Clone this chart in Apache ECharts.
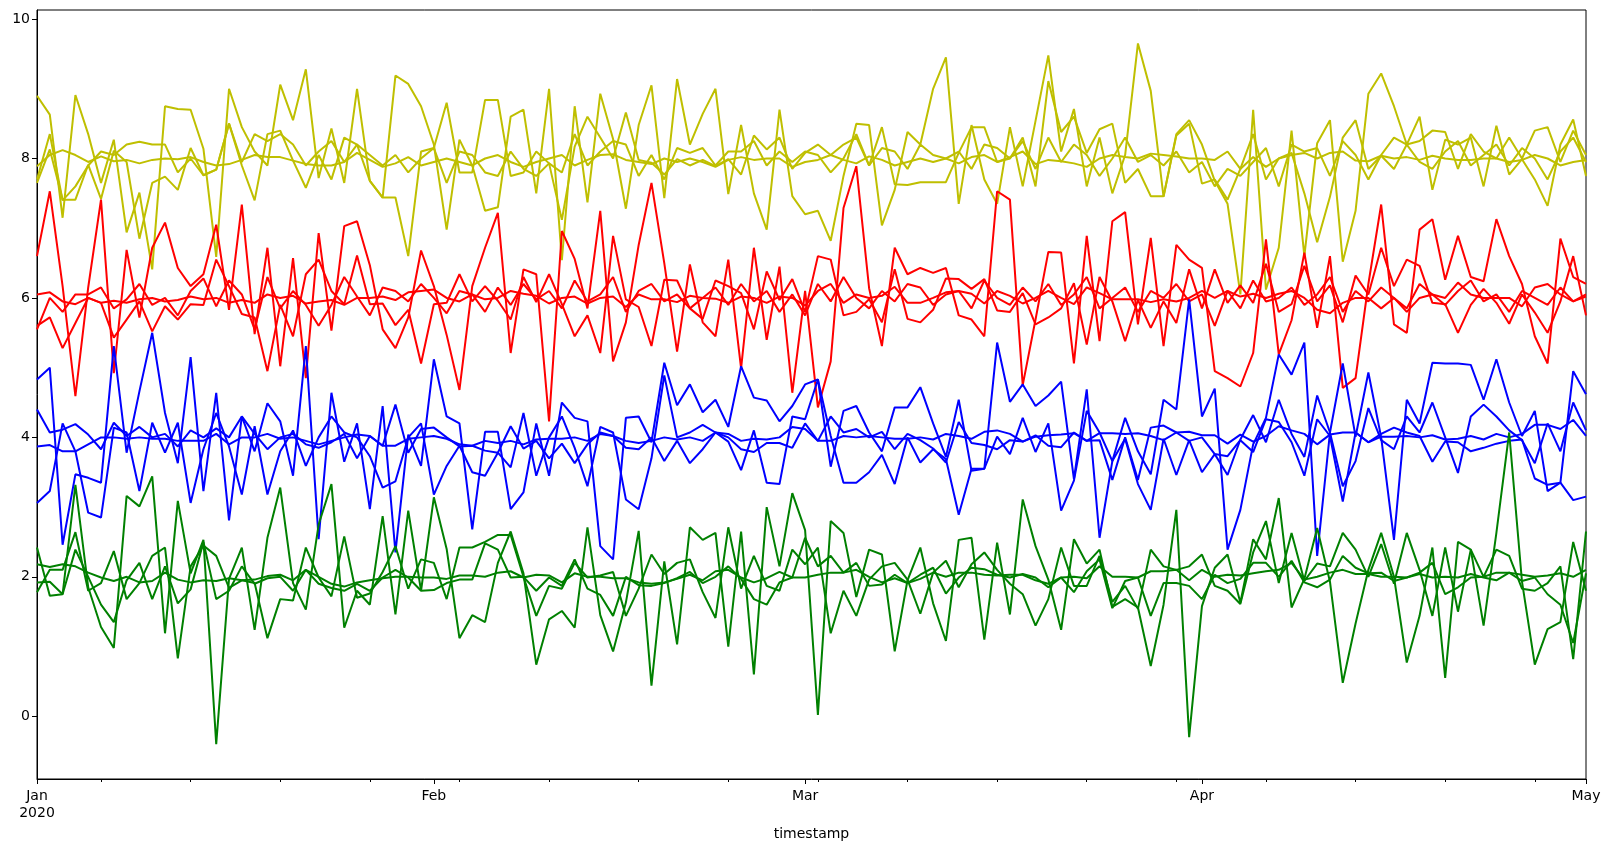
<!DOCTYPE html>
<html>
<head>
<meta charset="utf-8">
<script src="https://cdn.jsdelivr.net/npm/echarts@6.0.0/dist/echarts.min.js"></script>
<style>
html,body{margin:0;padding:0;background:#ffffff;}
#chart{width:1611px;height:849px;}
</style>
</head>
<body>
<div id="chart"></div>
<script>
// ---------------- data ----------------
const startDate = '2020-01-01';
const dayCount = 122;
const yTicks = [0, 2, 4, 6, 8, 10];
const monthTicks = ['2020-01-01', '2020-02-01', '2020-03-01', '2020-04-01', '2020-05-01'];
const monthLabels = ['Jan\n2020', 'Feb', 'Mar', 'Apr', 'May'];
const weekTicks = ['2020-01-06','2020-01-13','2020-01-20','2020-01-27','2020-02-03','2020-02-10','2020-02-17','2020-02-24','2020-03-02','2020-03-09','2020-03-16','2020-03-23','2020-03-30','2020-04-06','2020-04-13','2020-04-20','2020-04-27'];

const yellowS = [7.89,8.05,8.12,8.05,7.95,8.03,7.96,7.98,7.93,7.98,8.00,7.99,8.02,7.95,7.90,7.92,7.98,8.05,8.02,8.02,
7.97,7.92,7.90,7.90,7.95,8.08,7.98,7.88,7.93,8.02,7.90,7.95,8.00,7.95,7.90,8.00,8.05,7.95,7.88,7.95,
8.00,8.05,7.90,7.98,8.05,8.06,7.98,7.95,7.92,8.00,7.95,8.00,7.95,7.88,7.98,8.02,7.98,8.00,8.00,7.88,
7.95,7.98,8.05,7.98,7.93,8.03,7.98,7.90,7.95,8.00,7.95,8.00,7.93,8.02,8.05,7.95,8.02,8.10,7.92,7.98,
7.96,7.93,7.88,8.00,8.05,8.02,8.00,8.07,8.05,8.03,8.00,8.00,7.98,8.10,7.85,8.02,7.88,8.00,8.05,8.08,
8.00,8.08,8.10,7.97,7.96,8.04,8.00,8.02,7.98,8.04,8.00,7.98,7.98,8.00,8.00,7.95,7.98,8.05,8.00,7.90,7.95,7.98];
const yellowL = [7.70,8.35,7.40,7.60,7.90,8.10,8.05,8.20,8.24,8.20,8.20,7.80,8.00,7.76,7.84,8.50,7.95,8.35,8.25,8.35,
8.20,7.90,8.10,8.25,7.95,8.20,8.05,7.90,8.05,7.80,8.00,8.15,7.65,8.10,8.05,7.80,7.75,8.10,7.85,7.75,
7.93,7.80,8.35,7.90,8.10,8.25,8.20,7.75,8.05,7.70,8.15,8.08,8.15,7.90,8.10,8.10,8.25,7.90,8.10,7.95,
8.10,8.05,7.80,8.00,8.35,7.90,8.15,8.10,7.85,8.20,8.05,8.00,8.10,7.85,8.20,8.15,8.00,8.25,7.85,8.30,
7.95,8.20,8.05,7.75,8.00,8.30,7.95,8.05,7.90,8.10,7.80,7.95,7.60,7.85,7.75,7.95,8.15,7.60,8.20,8.10,
8.15,7.75,8.25,8.05,7.70,8.05,8.30,8.20,7.95,7.85,8.10,8.25,7.90,8.05,8.20,7.90,8.15,8.00,7.70,8.10,8.30,7.95];
const yellowM = [7.65,8.13,7.41,7.41,7.91,7.42,8.11,7.95,6.85,7.65,7.74,7.55,8.15,7.76,7.84,8.50,7.90,7.40,8.35,8.40,
7.97,7.58,8.05,7.70,8.30,8.20,7.68,7.44,7.44,6.60,8.10,8.15,8.80,7.80,7.80,8.84,8.84,7.75,7.80,8.10,
7.93,7.12,8.17,8.60,8.30,8.00,8.66,7.98,7.94,7.77,7.99,7.90,7.98,7.89,7.99,7.77,8.33,8.13,8.30,7.85,
8.08,8.20,8.05,8.20,8.30,7.90,8.45,7.63,7.62,7.66,7.66,7.66,8.08,8.45,8.45,7.95,8.00,8.30,7.60,9.11,
8.38,8.60,8.08,8.42,8.50,7.65,7.85,7.46,7.46,8.33,8.50,7.64,7.70,7.41,7.85,8.35,7.70,8.00,8.08,7.50,
6.80,7.45,8.30,8.55,7.85,8.04,7.85,8.20,8.25,8.40,8.38,7.85,8.35,8.10,8.00,8.30,8.00,8.40,8.45,7.95,8.40,8.05];
const yellowH = [8.90,8.63,7.15,8.91,8.35,7.65,8.27,6.94,7.51,6.41,8.75,8.71,8.70,8.14,6.59,9.00,8.45,8.10,7.90,9.06,
8.55,9.28,7.72,8.43,7.65,9.00,7.68,7.44,9.19,9.07,8.75,8.20,6.98,8.27,7.90,7.25,7.30,8.60,8.70,7.50,
9.00,6.54,8.75,7.37,8.93,8.28,7.28,8.48,9.05,7.43,9.14,8.20,8.64,9.00,7.49,8.48,7.50,6.98,8.70,7.46,
7.20,7.25,6.82,7.75,8.50,8.48,7.04,7.55,8.38,8.20,9.00,9.45,7.35,8.48,7.70,7.35,8.45,7.60,8.54,9.48,
8.10,8.71,7.60,8.30,7.50,8.05,9.65,8.97,7.45,8.35,8.55,8.20,7.68,7.35,6.05,8.70,6.12,6.72,8.40,6.60,
8.22,8.55,6.52,7.25,8.93,9.22,8.75,8.20,8.60,7.55,8.27,8.20,8.30,7.60,8.47,7.77,7.99,7.70,7.32,8.20,8.56,7.75];

const redS = [6.05,6.08,5.95,5.91,6.00,5.93,5.96,5.93,5.98,6.00,5.95,5.97,6.02,5.98,6.00,5.93,5.97,5.93,6.05,6.00,
6.03,5.92,5.95,5.97,5.90,6.00,6.00,6.02,5.97,6.08,6.10,6.12,6.00,5.95,6.05,5.98,6.00,6.10,6.06,6.03,
5.92,6.00,6.02,5.92,6.00,6.02,5.87,6.05,5.98,5.98,5.94,6.03,6.00,5.99,5.93,6.02,6.00,5.93,6.02,6.00,
5.89,6.10,6.20,5.93,6.05,6.00,6.03,6.16,5.93,5.93,6.00,6.08,6.10,6.06,5.92,6.10,6.03,5.92,6.00,6.10,
6.00,5.91,6.15,6.07,5.98,5.98,5.98,5.94,5.98,5.95,6.00,6.10,6.00,6.10,6.02,6.06,6.00,6.06,6.10,6.00,
5.83,5.78,5.93,6.00,6.00,5.85,6.00,5.80,6.00,6.05,6.00,6.22,6.05,6.00,6.00,6.00,5.88,6.15,6.20,6.05,5.95,6.02];
const redL = [5.55,6.00,5.80,6.05,6.05,6.15,5.85,5.98,6.20,5.90,6.00,5.75,6.10,6.28,5.88,6.25,6.05,5.55,6.30,5.85,
6.10,5.90,5.60,5.90,6.30,6.02,5.75,6.15,6.10,5.95,6.20,6.00,5.78,6.10,6.05,5.80,6.15,5.90,6.20,5.98,
6.10,5.85,6.25,5.95,6.05,6.30,5.80,6.10,6.20,5.95,6.05,5.85,6.00,6.15,5.90,6.20,5.95,6.10,5.80,6.05,
5.75,6.20,5.95,6.30,6.00,5.85,6.10,5.95,6.20,6.15,5.90,6.05,6.10,5.85,6.25,6.00,5.90,6.15,5.95,6.20,
5.90,6.05,6.30,5.85,6.00,6.15,5.80,6.10,6.00,6.20,5.95,6.05,5.60,6.10,5.85,6.25,5.95,6.00,6.15,5.90,
6.05,6.30,5.80,6.10,5.95,6.15,6.00,5.85,6.20,6.05,5.90,6.10,6.25,5.95,6.05,5.80,6.10,6.00,5.90,6.15,5.95,6.05];
const redM = [5.60,5.72,5.28,5.64,6.00,5.93,5.43,5.69,5.95,5.52,5.88,5.69,5.91,5.90,6.55,6.17,5.77,5.72,4.95,5.90,
5.45,6.34,6.55,6.10,5.91,6.61,5.91,5.92,5.61,5.83,5.06,5.91,5.93,6.34,5.95,6.17,5.96,5.69,6.30,5.94,
6.34,5.91,5.45,5.75,5.21,6.89,5.98,5.87,5.31,6.26,6.25,5.85,5.70,6.25,6.17,6.07,5.55,6.38,5.97,6.27,
5.80,6.60,6.55,5.75,5.80,5.98,5.65,6.41,5.70,5.65,5.83,6.28,6.27,6.13,6.27,5.82,5.80,6.07,5.62,5.72,
5.85,6.21,5.33,6.30,5.95,5.38,5.97,5.57,5.95,5.64,6.41,5.85,6.41,5.93,6.18,5.93,6.49,5.80,5.91,6.46,
5.95,6.18,5.65,6.32,6.05,6.72,6.17,6.55,6.46,5.93,5.91,5.50,5.90,6.13,5.93,5.63,6.05,5.79,5.50,5.95,6.60,5.75];
const redH = [6.60,7.53,6.17,4.59,6.15,7.41,4.92,6.69,5.72,6.72,7.08,6.43,6.17,6.34,7.05,5.83,7.34,5.48,6.72,5.02,
6.57,4.85,6.93,5.53,7.03,7.10,6.47,5.55,5.28,5.72,6.68,6.17,5.47,4.68,6.17,6.72,7.22,5.21,6.41,6.34,
4.23,6.96,6.56,5.85,7.25,5.09,5.65,6.76,7.65,6.50,5.23,6.48,5.65,5.45,6.55,4.99,6.72,5.40,6.45,4.64,
6.10,4.43,5.09,7.29,7.89,6.14,5.31,6.72,6.34,6.43,6.36,6.43,5.75,5.69,5.45,7.53,7.41,4.75,5.69,6.66,
6.65,5.06,6.89,5.38,7.10,7.23,5.62,6.86,5.31,6.76,6.55,6.43,4.95,4.85,4.73,5.21,6.84,5.19,5.68,6.65,
5.57,6.60,4.71,4.85,6.20,7.34,5.62,5.50,6.98,7.13,6.26,6.89,6.30,6.24,7.13,6.60,6.20,5.45,5.06,6.85,6.30,6.20];

const blueS = [3.87,3.89,3.80,3.80,3.90,4.00,4.00,3.98,4.00,3.98,3.98,3.95,3.95,3.95,4.05,3.90,4.00,4.00,4.05,3.98,
4.00,3.95,3.90,3.95,4.00,4.04,4.02,3.88,3.88,3.98,4.00,4.02,3.98,3.90,3.88,3.95,3.92,3.95,3.90,3.97,
3.98,3.98,4.00,3.95,4.05,4.02,3.95,3.92,3.95,4.00,3.97,4.00,3.95,4.07,4.05,3.95,3.98,3.97,4.00,4.15,
4.12,3.95,3.95,4.02,4.00,4.02,4.00,3.98,3.98,4.00,3.97,4.05,4.02,3.98,4.08,4.10,4.05,3.94,4.01,4.03,
4.04,4.06,3.95,4.06,4.06,4.05,4.06,4.02,3.96,4.07,4.08,4.03,4.03,3.91,4.04,3.94,4.02,4.16,4.10,4.05,
3.90,4.04,4.07,4.07,3.93,4.01,4.01,4.02,4.00,4.03,3.97,3.98,4.02,3.97,4.05,4.00,4.05,4.18,4.18,4.12,4.25,4.02];
const blueL = [4.40,4.07,4.11,4.19,4.04,3.83,4.21,4.02,4.15,4.00,4.05,3.87,4.10,4.00,4.13,4.00,4.30,4.05,3.83,4.00,
4.05,3.90,3.85,3.93,4.05,3.70,4.02,3.88,4.47,3.78,4.12,4.14,4.00,3.87,3.88,3.81,3.78,4.16,3.84,3.95,
3.70,3.91,3.63,3.90,4.07,4.02,3.85,3.83,4.00,3.66,3.95,3.63,3.83,4.07,4.00,3.83,3.79,3.92,3.92,3.85,
4.20,3.95,4.30,4.07,4.12,4.00,4.08,3.83,4.05,3.96,3.84,3.64,4.22,3.92,3.89,3.83,3.96,3.94,4.03,3.88,
3.86,4.07,3.95,3.96,3.39,4.00,3.39,4.14,4.17,4.07,3.95,4.00,3.76,3.73,3.96,3.79,4.26,4.22,3.93,3.45,
4.26,4.02,3.08,4.07,3.93,4.05,4.14,4.07,4.02,3.65,3.94,3.93,3.80,3.85,3.91,3.95,3.97,3.41,3.32,3.35,3.10,3.15];
const blueM = [3.06,3.23,4.20,3.80,2.92,2.85,4.14,4.07,3.23,4.21,3.78,4.21,3.06,3.83,4.35,3.87,3.18,4.16,3.18,3.80,
4.10,3.59,4.00,4.30,4.07,4.00,3.73,3.28,3.37,4.00,4.20,3.18,3.59,3.88,3.50,3.45,3.78,3.57,4.35,3.45,
4.00,4.30,3.85,3.30,4.15,4.07,3.11,2.97,3.70,4.89,4.00,4.07,4.18,4.07,3.94,3.53,4.10,3.35,3.33,4.30,
4.26,4.83,4.02,3.35,3.35,3.50,3.75,3.33,4.00,3.64,3.83,3.69,2.89,3.55,3.55,4.01,3.76,4.28,3.79,4.20,
2.95,3.38,4.38,4.07,3.66,3.98,3.33,2.96,3.98,3.46,3.96,3.50,3.76,3.46,3.97,4.32,3.93,4.54,4.05,3.72,
4.60,4.07,3.30,3.66,4.42,3.96,3.83,4.30,4.07,4.50,4.00,3.49,4.30,4.47,4.30,4.10,3.96,3.63,4.20,3.80,4.50,4.10];
const blueH = [4.83,5.00,2.46,3.47,3.42,3.35,5.31,3.78,4.66,5.50,4.35,3.63,5.15,3.23,4.64,2.81,4.30,3.80,4.49,4.23,
3.45,5.31,2.54,4.64,3.65,4.20,2.97,4.45,2.35,4.04,3.59,5.12,4.30,4.20,2.68,4.08,4.08,2.97,3.21,4.20,
3.45,4.50,4.28,4.23,2.44,2.25,4.28,4.30,3.93,5.07,4.46,4.76,4.36,4.54,4.15,5.02,4.57,4.53,4.23,4.45,
4.76,4.83,3.58,4.38,4.45,4.07,3.80,4.43,4.43,4.72,4.20,3.72,4.54,3.52,3.55,5.36,4.51,4.76,4.45,4.60,
4.80,3.40,4.69,2.56,3.66,4.28,3.80,3.47,4.54,4.40,5.98,4.30,4.70,2.39,2.96,3.90,4.28,5.19,4.90,5.36,
2.30,4.07,5.06,4.01,4.93,4.00,2.53,4.54,4.20,5.07,5.06,5.06,5.04,4.54,5.12,4.50,4.02,4.38,3.23,3.35,4.95,4.62];

const greenS = [2.18,2.14,2.18,2.15,2.06,1.99,1.94,2.00,1.92,1.94,2.06,1.96,1.92,1.95,1.94,1.98,1.95,1.96,2.01,2.03,
1.95,2.10,2.00,1.90,1.86,1.92,1.95,1.98,2.00,2.00,1.99,1.99,1.97,2.02,2.02,2.00,2.06,2.08,1.99,2.03,
2.02,1.92,2.05,2.00,2.00,1.98,1.98,1.92,1.90,1.92,1.97,2.03,1.95,2.08,2.10,1.99,1.92,1.98,2.07,1.99,
1.99,2.03,2.06,2.06,2.10,2.00,1.92,1.98,1.91,1.97,2.06,2.00,2.06,2.06,2.03,2.02,2.03,2.03,1.95,1.90,
1.99,2.00,1.98,2.15,2.00,2.00,1.99,2.08,2.08,2.10,1.95,2.10,2.00,2.03,2.02,2.05,2.08,2.10,2.20,1.96,
2.00,2.06,2.10,2.04,2.04,2.00,2.00,1.99,2.04,1.99,2.00,1.99,2.04,1.99,1.95,2.06,2.03,2.00,2.02,2.05,2.00,2.10];
const greenL = [1.92,1.93,1.75,2.39,2.00,1.60,1.35,1.95,2.20,1.68,2.15,1.62,1.82,2.50,1.68,1.80,2.15,1.90,1.98,2.00,
1.80,2.10,1.90,1.84,1.80,1.90,1.80,1.99,2.10,1.99,1.80,1.81,1.91,1.96,1.96,2.48,2.39,1.99,2.00,1.80,
1.99,1.87,2.25,1.83,1.74,1.44,2.00,1.88,1.87,1.91,1.98,2.07,1.91,2.00,2.15,1.97,1.68,1.60,1.92,1.99,
2.56,2.15,2.30,2.06,2.20,1.87,1.89,2.03,1.91,2.03,2.13,1.76,1.99,2.13,2.11,2.03,1.99,2.04,1.99,1.85,
1.99,1.78,2.08,2.25,1.55,1.94,1.99,1.44,1.91,1.91,1.87,1.68,2.03,1.91,1.97,2.20,2.20,2.00,2.23,1.92,
1.85,1.96,2.30,2.13,2.05,2.06,1.94,1.99,2.06,2.20,1.75,1.85,1.99,2.00,2.06,2.06,1.94,1.99,1.75,1.60,1.05,2.05];
const greenM = [1.78,2.10,2.10,2.64,1.80,1.91,2.37,1.68,1.91,2.30,2.42,0.83,2.15,2.45,2.30,1.84,1.95,1.91,1.12,1.68,
1.66,2.42,1.99,1.72,2.58,1.70,1.76,2.07,2.44,1.83,2.25,2.20,1.68,2.42,2.42,2.50,2.60,2.60,2.00,1.44,
1.87,1.83,2.20,1.99,2.02,2.07,1.44,1.83,2.32,2.04,2.20,2.25,1.78,1.41,2.71,1.83,2.30,1.87,1.80,2.39,
2.18,2.42,1.19,1.80,1.44,1.96,2.15,2.20,1.96,1.47,2.06,2.23,1.85,2.18,2.35,2.10,1.90,1.75,1.30,1.68,
2.42,1.87,1.87,2.30,1.64,1.87,1.54,2.39,2.15,2.10,2.15,2.32,1.87,1.80,1.61,2.35,2.80,1.91,2.63,1.94,
2.19,2.15,2.63,2.39,2.00,2.47,1.90,2.63,2.10,1.44,2.42,1.50,2.39,2.00,2.39,2.30,1.83,1.80,1.91,2.15,0.82,2.65];
const greenH = [2.42,1.73,1.75,3.32,1.85,1.28,0.98,3.16,3.01,3.44,1.19,3.09,2.05,2.53,-0.40,1.97,2.42,1.24,2.56,3.28,
1.91,1.53,2.75,3.33,1.27,1.80,1.60,2.87,1.46,2.95,1.80,3.14,2.40,1.12,1.45,1.35,2.20,2.65,2.05,0.74,
1.39,1.51,1.27,2.71,1.45,0.93,1.63,2.66,0.44,2.22,1.03,2.71,2.53,2.63,1.00,2.65,0.60,3.00,2.15,3.20,
2.67,0.02,2.80,2.63,1.71,2.39,2.32,0.93,1.95,2.42,1.62,1.08,2.53,2.56,1.10,2.49,1.46,3.11,2.44,1.96,
1.24,2.54,2.19,2.39,1.57,1.68,1.56,0.72,1.60,2.96,-0.30,1.58,2.13,2.32,1.63,2.54,2.25,3.13,1.56,1.97,
2.70,1.93,0.48,1.33,2.10,2.63,2.00,0.77,1.44,2.42,0.55,2.50,2.39,1.30,2.63,4.07,1.93,0.74,1.25,1.35,2.50,1.80];

const seriesDefs = [
  ['yellowS', yellowS, '#bfbf00'], ['yellowL', yellowL, '#bfbf00'], ['yellowM', yellowM, '#bfbf00'], ['yellowH', yellowH, '#bfbf00'],
  ['redS', redS, '#ff0000'], ['redL', redL, '#ff0000'], ['redM', redM, '#ff0000'], ['redH', redH, '#ff0000'],
  ['blueS', blueS, '#0000ff'], ['blueL', blueL, '#0000ff'], ['blueM', blueM, '#0000ff'], ['blueH', blueH, '#0000ff'],
  ['greenS', greenS, '#008000'], ['greenL', greenL, '#008000'], ['greenM', greenM, '#008000'], ['greenH', greenH, '#008000']
];

// ---------------- chart ----------------
// x axis runs in days since startDate
const DAY = 86400000;
const toTs = s => Date.parse(s + 'T00:00:00Z');
const t0 = toTs(startDate);
const toDay = s => Math.round((toTs(s) - t0) / DAY);
const monthDays = monthTicks.map(toDay);
const weekDays = weekTicks.map(toDay);
const xMin = monthDays[0], xMax = monthDays[monthDays.length - 1];
const FONT = 'DejaVu Sans';

function monthLabel(v) {
  for (let k = 0; k < monthDays.length; k++) {
    if (Math.abs(monthDays[k] - v) < 0.01) return monthLabels[k];
  }
  return '';
}

const chart = echarts.init(document.getElementById('chart'), null, {renderer: 'canvas'});
chart.setOption({
  animation: false,
  backgroundColor: '#ffffff',
  textStyle: {fontFamily: FONT},
  grid: {left: 37, right: 25, top: 10, bottom: 70, show: true, borderColor: '#000', borderWidth: 1, backgroundColor: 'transparent'},
  xAxis: [{
    type: 'value', min: xMin, max: xMax,
    name: 'timestamp', nameLocation: 'middle', nameGap: 42,
    nameTextStyle: {color: '#000', fontSize: 14, fontFamily: FONT},
    axisLine: {show: true, onZero: false, lineStyle: {color: '#000', width: 1}},
    splitLine: {show: false},
    axisTick: {show: true, customValues: monthDays, length: 5, lineStyle: {color: '#000', width: 1}},
    axisLabel: {show: true, customValues: monthDays, formatter: monthLabel, color: '#000', fontSize: 14, fontFamily: FONT, margin: 9, lineHeight: 17, hideOverlap: false, showMinLabel: true, showMaxLabel: true}
  }, {
    type: 'value', min: xMin, max: xMax, position: 'bottom',
    axisLine: {show: false, onZero: false}, axisLabel: {show: false}, splitLine: {show: false},
    axisTick: {show: true, customValues: weekDays, length: 3, lineStyle: {color: '#000', width: 1}}
  }],
  yAxis: {
    type: 'value', min: -0.9, max: 10.13,
    axisLine: {show: true, onZero: false, lineStyle: {color: '#000', width: 1}},
    splitLine: {show: false},
    axisTick: {show: true, customValues: yTicks, length: 5, lineStyle: {color: '#000', width: 1}},
    axisLabel: {show: true, customValues: yTicks, color: '#000', fontSize: 14, fontFamily: FONT, margin: 7}
  },
  series: seriesDefs.map(([name, vals, color]) => ({
    name: name, type: 'line', xAxisIndex: 0, yAxisIndex: 0,
    data: vals.map((v, i) => [i, v]),
    showSymbol: false, symbol: 'none', smooth: false,
    lineStyle: {color: color, width: 2},
    itemStyle: {color: color},
    emphasis: {disabled: true},
    clip: true
  }))
});
</script>
</body>
</html>
